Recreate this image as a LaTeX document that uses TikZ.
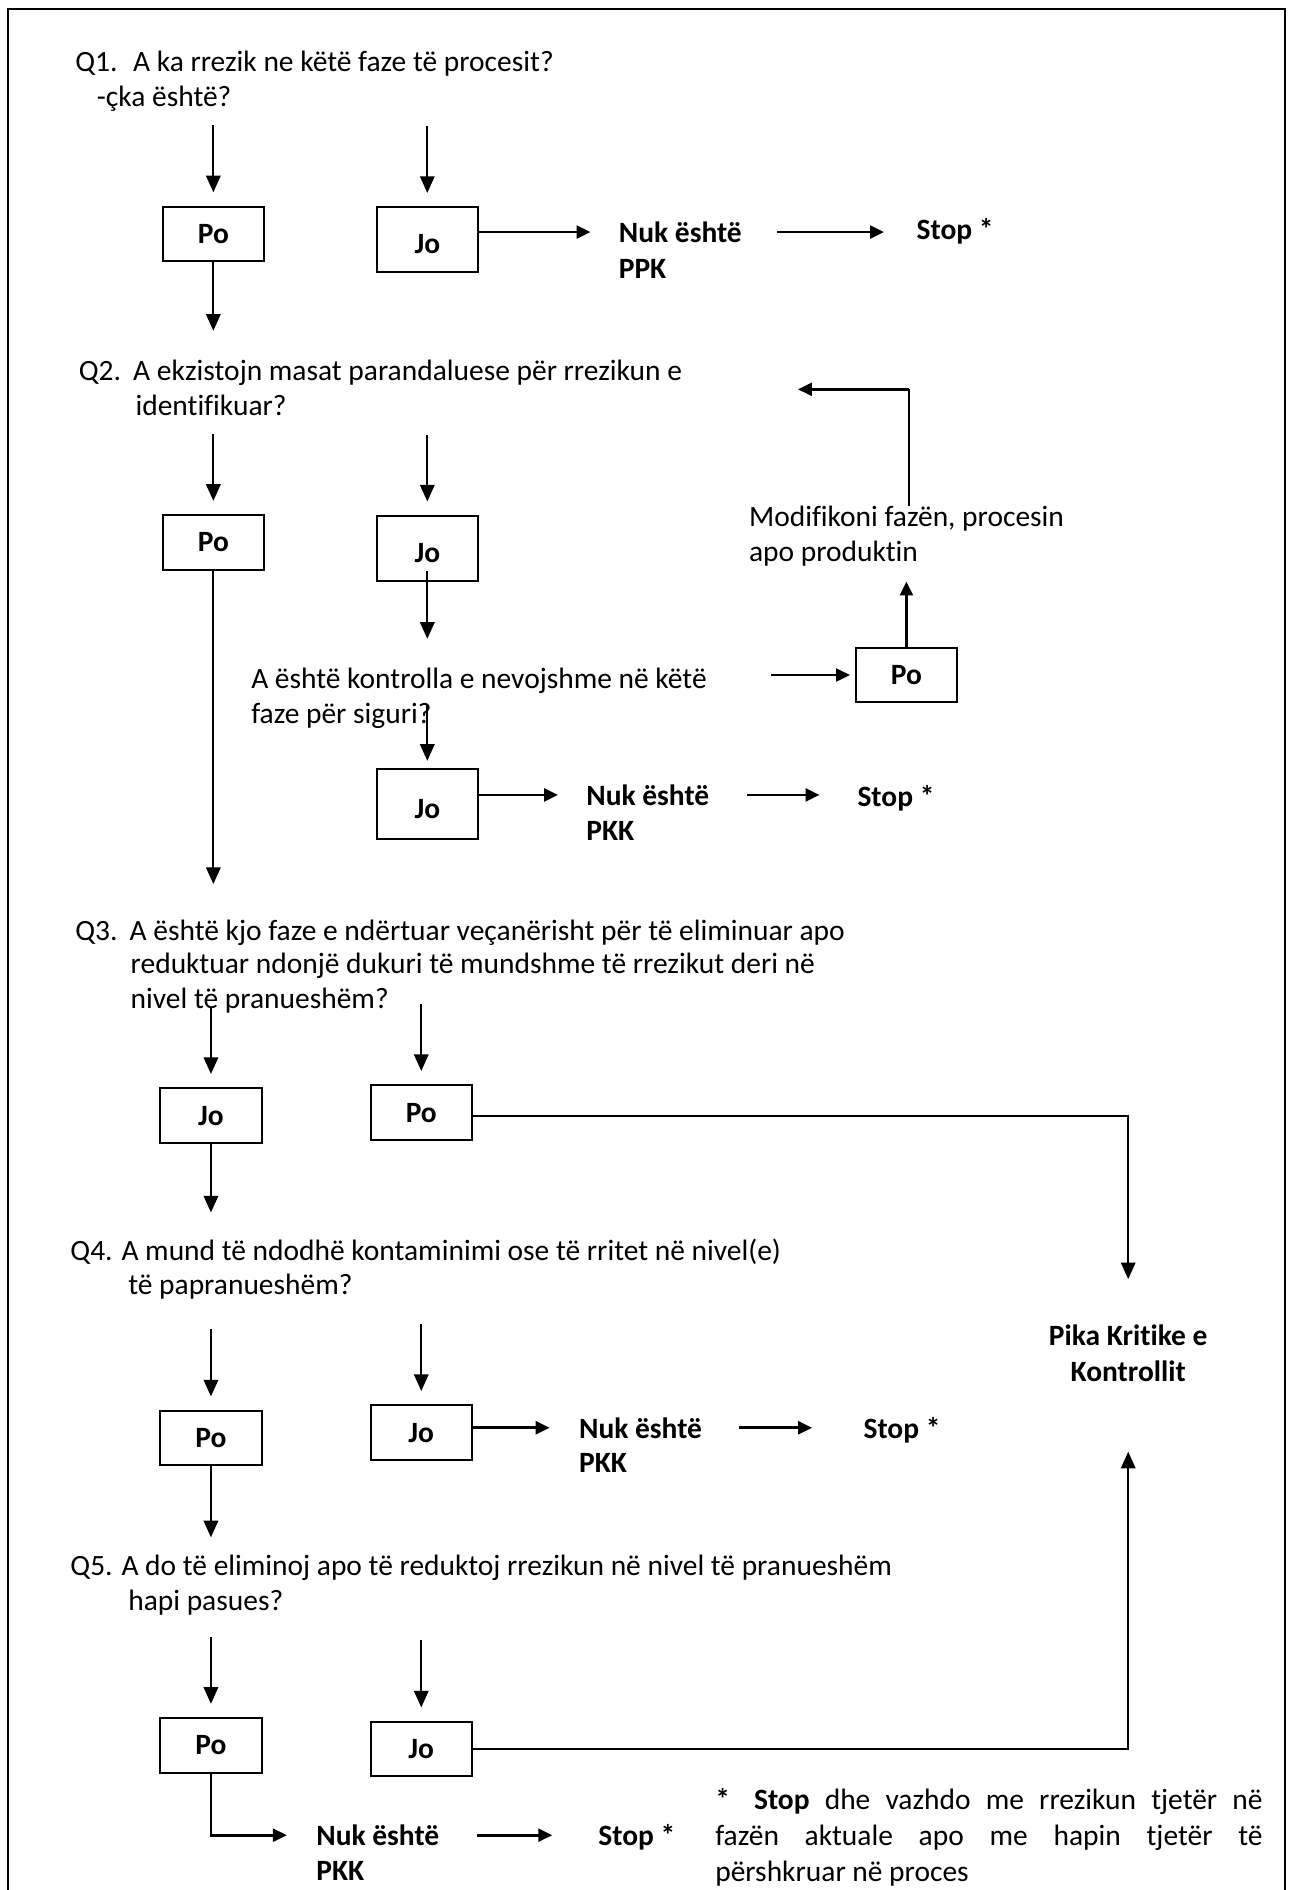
\documentclass[tikz,border=0pt]{standalone}
\usepackage{fontspec}
\setmainfont{Carlito}[Ligatures=NoCommon]
\usetikzlibrary{arrows.meta}

\tikzset{
  box/.style={draw, line width=0.75pt, minimum width=37.8pt, minimum height=20.3pt, inner sep=0pt, font=\bfseries},
  tallbox/.style={box, minimum height=24.3pt, text height=10.6pt},
  txt/.style={anchor=base west, inner sep=0pt},
  btxt/.style={txt, font=\bfseries},
  arr/.style={line width=0.7pt, -{Triangle[length=6.2pt,width=5.4pt]}},
  arrb/.style={line width=1pt, -{Triangle[length=5.2pt,width=4.8pt]}},
  ln/.style={line width=0.7pt},
}
% arrow coming down into a box (yscale=-1, so shifts are negative)
\newcommand{\arrin}[1]{\draw[arr] ([yshift=-30pt]#1.north) -- ([yshift=-5pt]#1.north);}

\begin{document}
\fontsize{11pt}{13.2pt}\selectfont
\begin{tikzpicture}[x=0.45pt,y=0.45pt,yscale=-1]
\useasboundingbox (0,0) rectangle (1072,1568);
\clip (0,0) rectangle (1072,1568);

% Frame
\draw[line width=0.75pt] (7,1600) -- (7,7.5) -- (1066,7.5) -- (1066,1600);

% Q1
\node[txt] (q1) at (62,59) {\makebox[21.6pt][l]{Q1.}A ka rrezik ne këtë faze të procesit?};
\node[txt] (q1b) at (80,88) {-çka është?};
\node[box] (po1) at (177,194) {Po};
\node[tallbox] (jo1) at (354.5,199) {Jo};
\node[btxt] (nuk1) at (513,201) {Nuk është};
\node[btxt] (ppk1) at (513,231) {PPK};
\node[btxt] (stop1) at (760,199) {Stop *};
\arrin{po1} \arrin{jo1}
\draw[arrb, shorten >=10.4pt] (jo1.east |- nuk1.west) -- (nuk1.west);
\draw[arrb, shorten <=13pt, shorten >=12pt] (nuk1.east) -- (stop1.west |- nuk1.east);
\draw[arr] (po1.south) -- ++(0,57);

% Q2
\node[txt] (q2) at (65,316) {\makebox[20.3pt][l]{Q2.}A ekzistojn masat parandaluese për rrezikun e};
\node[txt] (q2b) at (112,345) {identifikuar?};
\node[box] (po2) at (177,450) {Po};
\node[tallbox] (jo2) at (354.5,455) {Jo};
\arrin{po2} \arrin{jo2}
\draw[arr] (po2.south) -- ++(0,260);

% control question
\node[txt] (ctrl) at (208,571) {A është kontrolla e nevojshme në këtë};
\node[txt] (ctrlb) at (208,600) {faze për siguri?};
\draw[arr] ([yshift=-4pt]jo2.south) -- ++(0,56);
\node[box] (pom) at (752,560) {Po};
\draw[arrb, shorten <=24pt, shorten >=1.8pt] (ctrl.east |- pom.west) -- (pom.west);
\node[txt] (mod) at (621,437) {Modifikoni fazën, procesin};
\node[txt] (modb) at (621,466) {apo produktin};
\draw[arrb, shorten >=5.4pt] (pom.north) -- (pom.north |- modb.south);
\coordinate (corner) at (754,323);
\coordinate (back) at (662,323);
\draw[ln] (mod.north -| corner) -- (corner);
\draw[arrb] (corner) -- (back);

\node[tallbox, minimum height=26.1pt] (jo2b) at (354.5,667) {Jo};
\draw[arr] ([yshift=-24pt]jo2b.north) -- ([yshift=-2.7pt]jo2b.north);
\node[btxt] (nuk2) at (486,668) {Nuk është};
\node[btxt] (pkk2) at (486,697) {PKK};
\node[btxt] (stop2) at (711,669) {Stop *};
\draw[arrb, shorten >=10.4pt] (jo2b.east |- nuk2.west) -- (nuk2.west);
\draw[arrb, shorten <=14pt, shorten >=14pt] (nuk2.east) -- (stop2.west |- nuk2.east);

% Q3
\node[txt] (q3) at (62,780) {\makebox[20.3pt][l]{Q3.}A është kjo faze e ndërtuar veçanërisht për të eliminuar apo};
\node[txt] (q3b) at (108,808) {reduktuar ndonjë dukuri të mundshme të rrezikut deri në};
\node[txt] (q3c) at (108,837) {nivel të pranueshëm?};
\node[box] (jo3) at (175,925.5) {Jo};
\node[box] (po3) at (349.5,923) {Po};
\arrin{jo3} \arrin{po3}
\draw[arr] (jo3.south) -- ++(0,57);
\node[btxt, anchor=north, align=center] (pika) at (936,1099) {Pika Kritike e\\Kontrollit};
\draw[arr, shorten >=17pt] ([yshift=1.3pt]po3.east) -| (pika.north);

% Q4
\node[txt] (q4) at (58,1046) {Q4. A mund të ndodhë kontaminimi ose të rritet në nivel(e)};
\node[txt] (q4b) at (106,1074) {të papranueshëm?};
\node[box] (po4) at (175,1193) {Po};
\node[box] (jo4) at (349.5,1188.5) {Jo};
\arrin{po4} \arrin{jo4}
\node[btxt] (nuk4) at (480,1193) {Nuk është};
\node[btxt] (pkk4) at (480,1222) {PKK};
\node[btxt] (stop4) at (716,1193) {Stop *};
\draw[arrb, shorten >=10.8pt] (jo4.east |- nuk4.west) -- (nuk4.west);
\draw[arrb, shorten <=13.5pt, shorten >=19pt] (nuk4.east) -- (stop4.west |- nuk4.east);
\draw[arr] (po4.south) -- ++(0,59);

% Q5
\node[txt] (q5) at (58,1307) {Q5. A do të eliminoj apo të reduktoj rrezikun në nivel të pranueshëm};
\node[txt] (q5b) at (106,1336) {hapi pasues?};
\node[box] (po5) at (175,1448) {Po};
\node[box] (jo5) at (349.5,1451) {Jo};
\arrin{po5} \arrin{jo5}
\draw[arr, shorten >=26pt] (jo5.east) -| (pika.south);
\node[btxt] (nuk5) at (262,1531) {Nuk është};
\node[btxt] (pkk5) at (262,1560) {PKK};
\node[btxt] (stop5) at (496,1531) {Stop *};
\draw[arrb, shorten >=10.8pt] (po5.south) |- (nuk5.west);
\draw[arrb, shorten <=14pt, shorten >=17pt] (nuk5.east) -- (stop5.west |- nuk5.east);

% footnote
\node[txt, anchor=north west, align=left, font=\fontsize{11pt}{13.5pt}\selectfont] (note) at (593,1483) {\makebox[204.3pt][s]{\textbf{*}\hspace{9pt}\textbf{Stop} dhe vazhdo me rrezikun tjetër në}\\
  \makebox[204.3pt][s]{fazën aktuale apo me hapin tjetër të}\\
  përshkruar në proces};

\end{tikzpicture}
\end{document}
